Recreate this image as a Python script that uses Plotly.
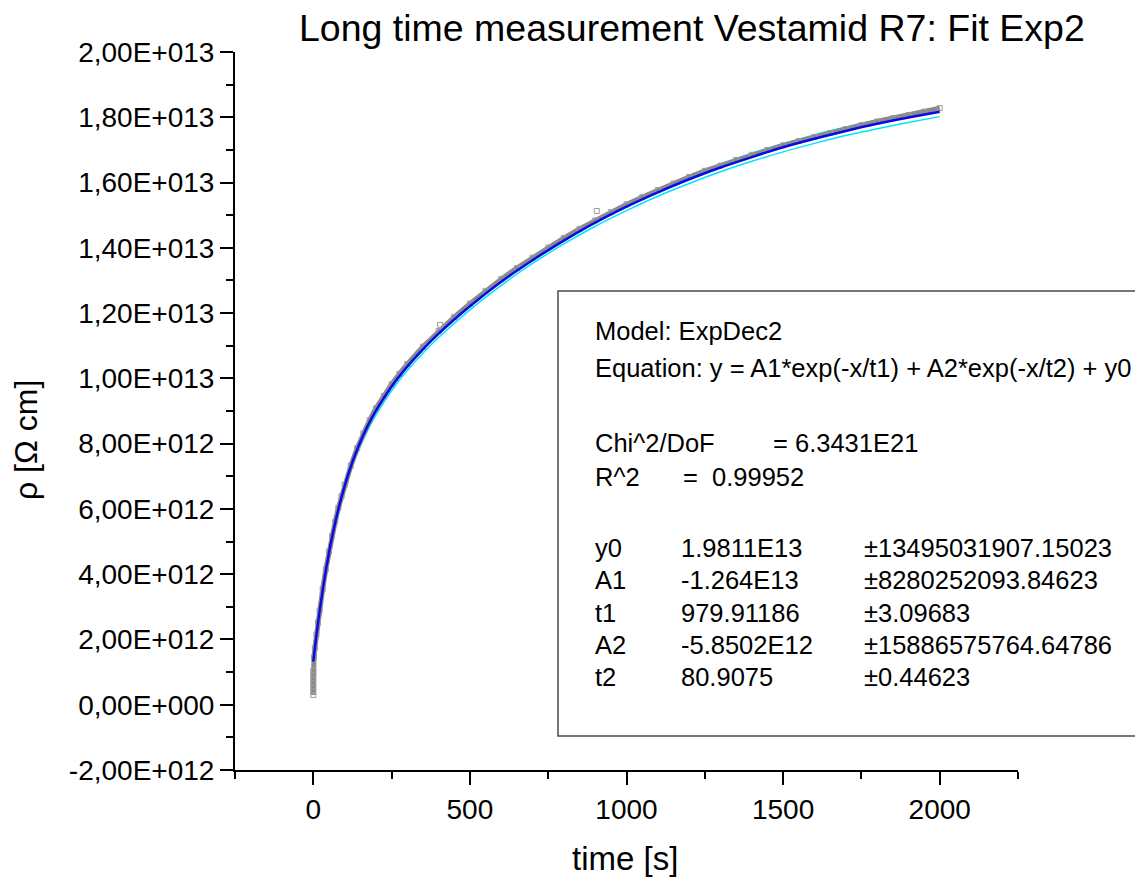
import numpy as np
import plotly.graph_objects as go

# ---------------- data (rho in units of 1E12 Ohm cm) ----------------
t_data = [0, 0, 0, 0, 0, 0, 0, 2, 5, 10, 15, 20, 30, 40, 50, 60, 70, 80, 90, 100,
          120, 140, 160, 180, 200, 225, 250, 275, 300, 350, 400, 450, 500, 550,
          600, 650, 700, 750, 800, 850, 900, 950, 1000, 1050, 1100, 1150, 1200,
          1250, 1300, 1350, 1400, 1450, 1500, 1550, 1600, 1650, 1700, 1750, 1800,
          1850, 1900, 1950, 2000]
rho_data = [0.30, 0.42, 0.55, 0.67, 0.80, 0.92, 1.05, 1.45, 1.74, 2.15, 2.52, 2.88,
            3.55, 4.15, 4.69, 5.18, 5.61, 6.03, 6.39, 6.74, 7.33, 7.86, 8.32, 8.72,
            9.08, 9.46, 9.82, 10.14, 10.44, 10.97, 11.45, 11.88, 12.29, 12.68, 13.04,
            13.38, 13.70, 14.01, 14.30, 14.58, 14.84, 15.09, 15.33, 15.55, 15.77,
            15.97, 16.17, 16.36, 16.52, 16.69, 16.85, 17.00, 17.14, 17.27, 17.40,
            17.52, 17.64, 17.76, 17.87, 17.97, 18.07, 18.17, 18.28]
t_outlier = [405, 905]
rho_outlier = [11.64, 15.13]

t_fit = [0, 10, 20, 30, 40, 50, 60, 80, 100, 125, 150, 175, 200, 250, 300, 350, 400,
         500, 600, 700, 800, 900, 1000, 1100, 1200, 1300, 1400, 1500, 1600, 1700,
         1800, 1900, 2000]
rho_fit = [1.32, 2.13, 2.86, 3.51, 4.11, 4.65, 5.14, 5.99, 6.70, 7.44, 8.05, 8.57,
           9.01, 9.75, 10.36, 10.89, 11.37, 12.21, 12.96, 13.62, 14.22, 14.77, 15.26,
           15.70, 16.10, 16.46, 16.78, 17.08, 17.34, 17.58, 17.80, 17.99, 18.17]
rho_upper = [1.38, 2.20, 2.93, 3.59, 4.19, 4.73, 5.22, 6.07, 6.79, 7.53, 8.15, 8.67,
             9.12, 9.86, 10.47, 11.00, 11.48, 12.32, 13.07, 13.74, 14.34, 14.88, 15.37,
             15.81, 16.21, 16.57, 16.90, 17.19, 17.46, 17.70, 17.92, 18.11, 18.29]
rho_lower = [1.24, 2.04, 2.77, 3.41, 4.00, 4.53, 5.01, 5.86, 6.56, 7.30, 7.91, 8.43,
             8.87, 9.62, 10.24, 10.77, 11.25, 12.10, 12.85, 13.52, 14.12, 14.66, 15.14,
             15.58, 15.97, 16.33, 16.65, 16.94, 17.20, 17.44, 17.65, 17.84, 18.02]

y_tickvals = [-2, 0, 2, 4, 6, 8, 10, 12, 14, 16, 18, 20]
y_ticktext = ["-2,00E+012", "0,00E+000", "2,00E+012", "4,00E+012", "6,00E+012",
              "8,00E+012", "1,00E+013", "1,20E+013", "1,40E+013", "1,60E+013",
              "1,80E+013", "2,00E+013"]
x_tickvals = [0, 500, 1000, 1500, 2000]

fit_rows = [("y0", "1.9811E13", "\u00b113495031907.15023"),
            ("A1", "-1.264E13", "\u00b18280252093.84623"),
            ("t1", "979.91186", "\u00b13.09683"),
            ("A2", "-5.8502E12", "\u00b115886575764.64786"),
            ("t2", "80.9075", "\u00b10.44623")]

E12 = 1e12
FONT = "Liberation Sans, Arial, sans-serif"

fig = go.Figure()
for band in (rho_upper, rho_lower):
    fig.add_trace(go.Scatter(x=t_fit, y=np.array(band) * E12, mode="lines",
                             line=dict(color="#00e5ff", width=1.5, shape="spline"),
                             hoverinfo="skip"))
fig.add_trace(go.Scatter(x=t_data, y=np.array(rho_data) * E12, mode="lines+markers",
                         line=dict(color="#8a8a8a", width=5),
                         marker=dict(symbol="square-open", size=5, color="#9a9a9a",
                                     line=dict(width=1, color="#9a9a9a"))))
fig.add_trace(go.Scatter(x=t_outlier, y=np.array(rho_outlier) * E12, mode="markers",
                         marker=dict(symbol="square-open", size=5, color="#9a9a9a",
                                     line=dict(width=1, color="#9a9a9a"))))
fig.add_trace(go.Scatter(x=t_fit, y=np.array(rho_fit) * E12, mode="lines",
                         line=dict(color="#0a0ae6", width=2.5, shape="spline")))

# page has an 8px body margin; reference plot area in window pixels: x 235..1018, y 52..770
OFF = 8
W, H = 1143 - OFF, 881 - OFF
L, R, T, B = 235, 1018, 52, 770


def px(x):
    return (x - L) / (R - L)


def py(y):
    return (B - y) / (B - T)


axis_common = dict(showline=True, linecolor="black", linewidth=2, showgrid=False,
                   zeroline=False, ticks="outside", tickcolor="black", tickwidth=2,
                   mirror=False)

fig.update_xaxes(range=[-250, 2250], tickmode="array", tickvals=x_tickvals,
                 ticklen=13, tickfont=dict(family=FONT, size=28, color="black"),
                 minor=dict(ticks="outside", ticklen=7, tickwidth=2, tickcolor="black",
                            tickmode="linear", tick0=-250, dtick=500),
                 **axis_common)
fig.update_yaxes(range=[-2 * E12, 20 * E12], tickmode="array",
                 tickvals=[v * E12 for v in y_tickvals], ticktext=y_ticktext,
                 ticklen=13, tickfont=dict(family=FONT, size=28, color="black"),
                 minor=dict(ticks="outside", ticklen=7, tickwidth=2, tickcolor="black",
                            tickmode="linear", tick0=-E12, dtick=2 * E12),
                 **axis_common)

annotations = []
annotations.append(dict(text="Long time measurement Vestamid R7: Fit Exp2",
                        xref="paper", yref="paper", x=px(692), y=py(28),
                        xanchor="center", yanchor="middle", showarrow=False,
                        font=dict(family=FONT, size=37.5, color="black")))
annotations.append(dict(text="time [s]", xref="paper", yref="paper", x=px(625),
                        y=py(858), xanchor="center", yanchor="middle", showarrow=False,
                        font=dict(family=FONT, size=33, color="black")))
annotations.append(dict(text="\u03c1 [\u03a9 cm]", xref="paper", yref="paper", x=px(26),
                        y=py(440), xanchor="center", yanchor="middle", showarrow=False,
                        textangle=-90,
                        font=dict(family=FONT, size=32, color="black")))


def txt(s, x, y):
    annotations.append(dict(text=s, xref="paper", yref="paper", x=px(x), y=py(y),
                            xanchor="left", yanchor="middle", showarrow=False,
                            font=dict(family=FONT, size=25.5, color="black")))


txt("Model: ExpDec2", 593, 331)
txt("Equation: y = A1*exp(-x/t1) + A2*exp(-x/t2) + y0", 593, 368)
txt("Chi^2/DoF", 593, 443)
txt("= 6.3431E21", 771, 443)
txt("R^2", 593, 477)
txt("=  0.99952", 681, 477)
for i, (name, val, err) in enumerate(fit_rows):
    yy = 548 + i * 32.3
    txt(name, 593, yy)
    txt(val, 679, yy)
    txt(err, 862, yy)

fig.update_layout(
    width=W, height=H,
    margin=dict(l=L - OFF, r=W - (R - OFF), t=T - OFF, b=H - (B - OFF)),
    paper_bgcolor="white", plot_bgcolor="white",
    showlegend=False,
    annotations=annotations,
    shapes=[dict(type="rect", xref="paper", yref="paper", x0=px(558), x1=px(1160),
                 y0=py(736), y1=py(291), line=dict(color="#4a4a4a", width=1.5),
                 fillcolor="rgba(0,0,0,0)")],
    font=dict(family=FONT, color="black"),
)

fig.write_html("out.html")
